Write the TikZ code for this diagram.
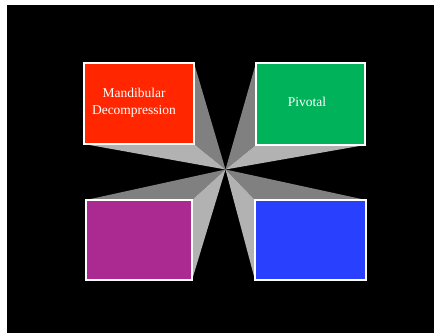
\documentclass[tikz,border=0pt]{standalone}
\usepackage{fontspec}
\setmainfont{Liberation Serif}
\definecolor{redbox}{RGB}{255,38,0}
\definecolor{greenbox}{RGB}{0,178,90}
\definecolor{purplebox}{RGB}{170,42,146}
\definecolor{bluebox}{RGB}{42,64,255}
\definecolor{fandark}{RGB}{128,128,128}
\definecolor{fanlight}{RGB}{178,178,178}
\tikzset{
  card/.style={draw=white, line width=2pt, outer sep=0pt, inner sep=0pt, anchor=north west,
    text=white, font=\fontsize{13.5}{17}\selectfont, align=center},
}
\begin{document}
\begin{tikzpicture}[x=1pt,y=-1pt]
\useasboundingbox (0,0) rectangle (434,336);
\fill[white] (0,0) rectangle (434,336);
\fill[black] (7,5) rectangle (434,333);
\coordinate (c) at (225.5,169.5);
% box geometry (invisible placeholders for anchors)
\node[card, draw=none, minimum width=110pt, minimum height=81pt] (red) at (84,63) {};
\node[card, draw=none, minimum width=109pt, minimum height=82pt] (green) at (256,63) {};
\node[card, draw=none, minimum width=106pt, minimum height=80pt] (purple) at (86,200) {};
\node[card, draw=none, minimum width=111pt, minimum height=80pt] (blue) at (255,200) {};
% fans
\fill[fandark] (c) -- (red.north east) -- (red.south east) -- cycle;
\fill[fanlight] (c) -- (red.south east) -- (red.south west) -- cycle;
\fill[fandark] (c) -- (green.north west) -- (green.south west) -- cycle;
\fill[fanlight] (c) -- (green.south west) -- (green.south east) -- cycle;
\fill[fandark] (c) -- (purple.north west) -- (purple.north east) -- cycle;
\fill[fanlight] (c) -- (purple.north east) -- (purple.south east) -- cycle;
\fill[fandark] (c) -- (blue.north east) -- (blue.north west) -- cycle;
\fill[fanlight] (c) -- (blue.north west) -- (blue.south west) -- cycle;
% boxes
\fill[redbox, draw=white, line width=2pt] (red.north west) rectangle (red.south east);
\fill[greenbox, draw=white, line width=2pt] (green.north west) rectangle (green.south east);
\fill[purplebox, draw=white, line width=2pt] (purple.north west) rectangle (purple.south east);
\fill[bluebox, draw=white, line width=2pt] (blue.north west) rectangle (blue.south east);
% labels
\node[text=white, font=\fontsize{13.5}{17}\selectfont, align=center] (redlabel) at (134,103) {Mandibular\\Decompression};
\node[text=white, font=\fontsize{13.5}{17}\selectfont] (greenlabel) at (307,102) {Pivotal};
\end{tikzpicture}
\end{document}
